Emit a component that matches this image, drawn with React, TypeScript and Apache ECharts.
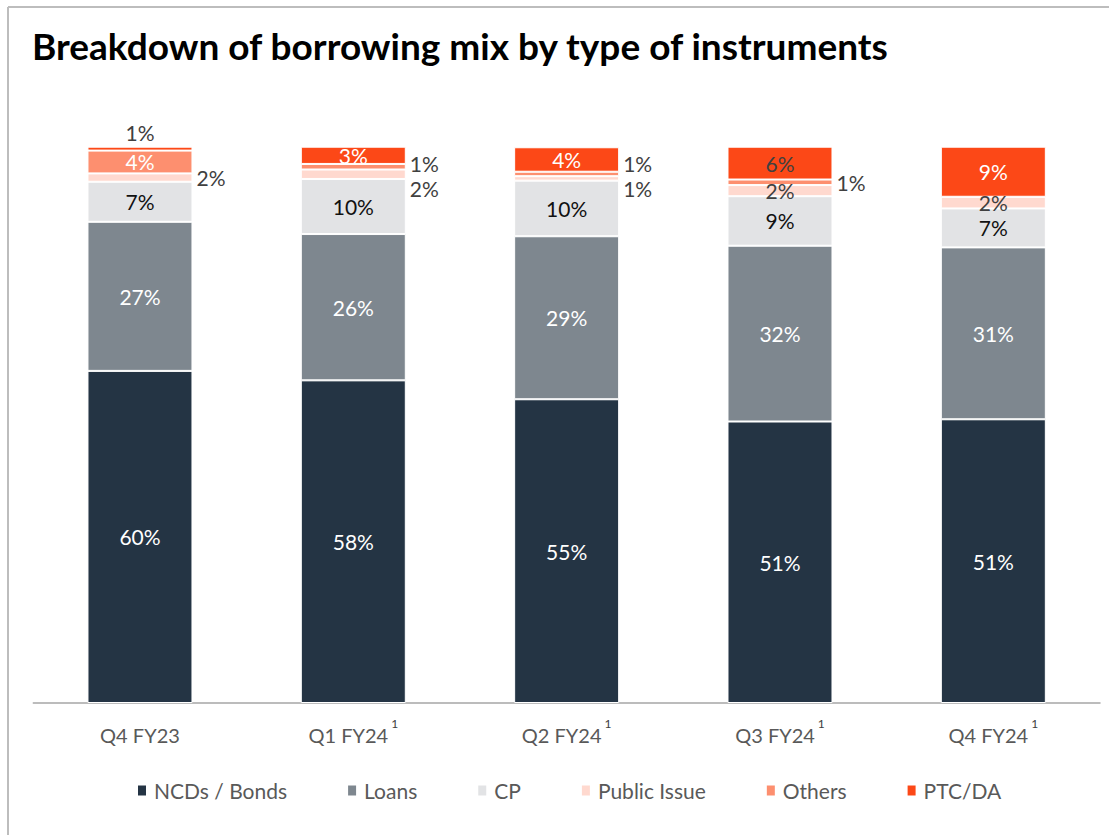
import React, { useEffect, useRef } from "react";
import * as echarts from "echarts";

const categories = ["Q4 FY23", "Q1 FY24", "Q2 FY24", "Q3 FY24", "Q4 FY24"];
const footnotes = ["", "1", "1", "1", "1"];

const ncdBonds = [59.7, 58.0, 54.6, 50.6, 51.0];
const loans = [26.8, 26.3, 29.3, 31.6, 30.9];
const cp = [7.2, 9.9, 10.0, 8.9, 7.0];
const publicIssue = [1.5, 1.7, 0.8, 2.0, 2.1];
const others = [4.1, 1.0, 0.8, 1.0, 0];
const ptcDa = [0.7, 3.1, 4.4, 5.9, 9.0];

const FONT = "Lato, 'Noto Sans', sans-serif";
const DARK = "#404040";

type LabelCfg = { position?: string; color?: string; offset?: number[]; distance?: number };

const labelOverrides: Record<string, Record<number, LabelCfg>> = {
  "Public Issue": {
    0: { position: "right", color: DARK },
    1: { position: "right", color: DARK, offset: [0, 14] },
    2: { position: "right", color: DARK, offset: [0, 10] },
    3: { position: "inside", color: DARK },
    4: { position: "inside", color: DARK },
  },
  Others: {
    0: { position: "inside", color: "#ffffff" },
    1: { position: "right", color: DARK, offset: [0, -3] },
    2: { position: "right", color: DARK, offset: [0, -10] },
    3: { position: "right", color: DARK },
  },
  "PTC/DA": {
    0: { position: "top", color: DARK, distance: 5 },
    3: { position: "inside", color: DARK },
  },
};

const seriesDefs = [
  { name: "NCDs / Bonds", values: ncdBonds, color: "#243444", labelColor: "#ffffff" },
  { name: "Loans", values: loans, color: "#7e878f", labelColor: "#ffffff" },
  { name: "CP", values: cp, color: "#e2e3e5", labelColor: "#111111" },
  { name: "Public Issue", values: publicIssue, color: "#ffd9cf", labelColor: DARK },
  { name: "Others", values: others, color: "#fd8f6f", labelColor: "#ffffff" },
  { name: "PTC/DA", values: ptcDa, color: "#fc4817", labelColor: "#ffffff" },
];

export default function App() {
  const ref = useRef<HTMLDivElement>(null);

  useEffect(() => {
    if (!ref.current) return;
    const chart = echarts.init(ref.current, null, { renderer: "svg" });

    const series = seriesDefs.map((s) => ({
      name: s.name,
      type: "bar",
      stack: "total",
      barWidth: 105,
      itemStyle: { color: s.color, borderColor: "#ffffff", borderWidth: 1 },
      label: {
        show: true,
        position: "inside",
        color: s.labelColor,
        fontFamily: FONT,
        fontSize: 21,
        lineHeight: 18,
        distance: 4,
        formatter: (p: any) => (p.value > 0 ? Math.round(p.value) + "%" : ""),
      },
      data: s.values.map((v, i) => {
        const o = labelOverrides[s.name] && labelOverrides[s.name][i];
        if (v === 0) return { value: v, label: { show: false } };
        return o ? { value: v, label: { ...o } } : { value: v };
      }),
    }));

    chart.setOption({
      animation: false,
      title: {
        text: "Breakdown of borrowing mix by type of instruments",
        left: 27,
        top: 22,
        textStyle: { fontFamily: FONT, fontSize: 37, fontWeight: "bold", color: "#000000" },
      },
      grid: { left: 33.3, right: 9, top: 146.7, bottom: 132 },
      legend: {
        top: 775,
        left: 131,
        icon: "rect",
        itemWidth: 10,
        itemHeight: 12,
        itemGap: 59,
        textStyle: { fontFamily: FONT, fontSize: 21, color: "#595959", padding: [0, 0, 0, 2] },
        data: seriesDefs.map((s) => s.name),
      },
      xAxis: {
        type: "category",
        data: categories,
        axisLine: { lineStyle: { color: "#a6a6a6", width: 1.5 } },
        axisTick: { show: false },
        axisLabel: {
          margin: 11,
          formatter: (val: string, idx: number) =>
            footnotes[idx] ? `{m|${val}}{s|${footnotes[idx]}}` : `{m|${val}}`,
          rich: {
            m: { fontFamily: FONT, fontSize: 20, color: "#595959", lineHeight: 42 },
            s: {
              fontFamily: FONT,
              fontSize: 12,
              color: "#404040",
              verticalAlign: "top",
              padding: [3, 0, 0, 3],
            },
          },
        },
      },
      yAxis: { type: "value", min: 0, max: 100, show: false },
      graphic: [
        { type: "line", shape: { x1: 8, y1: 7, x2: 1109, y2: 7 }, style: { stroke: "#bdbdbd", lineWidth: 2 } },
        { type: "line", shape: { x1: 8, y1: 7, x2: 8, y2: 835 }, style: { stroke: "#bdbdbd", lineWidth: 2 } },
      ],
      series,
    });

    return () => chart.dispose();
  }, []);

  return (
    <div
      ref={ref}
      style={{ position: "absolute", left: 0, top: 0, width: 1109, height: 835, background: "#ffffff" }}
    />
  );
}
